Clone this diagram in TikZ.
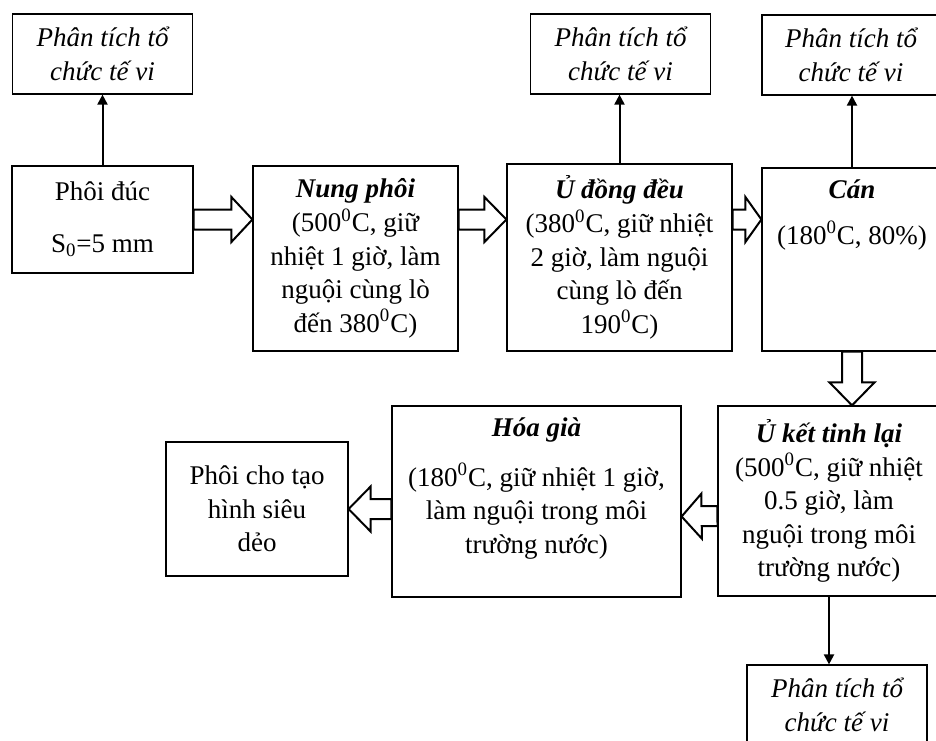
\documentclass[tikz,border=0pt]{standalone}
\usepackage{fontspec}
\setmainfont{Liberation Serif}
\usepackage{tikz}
\usetikzlibrary{arrows.meta,calc}

\begin{document}
\begin{tikzpicture}[x=0.5pt,y=-0.5pt,
    box/.style={draw,line width=0.6pt,inner sep=0pt,align=center,font=\fontsize{13.5}{16.8}\selectfont},
    ptbox/.style={box,minimum width=90pt,minimum height=40pt,font=\fontsize{13.5}{16.8}\selectfont\itshape},
    txt/.style={inner sep=0pt,align=center,font=\fontsize{13.5}{16.8}\selectfont},
    link/.style={line width=1pt,-{Triangle[length=5pt,width=5pt]}},
    hollow/.style={draw,line width=1pt,fill=white,line join=miter,
      to path={($(\tikztotarget)!#1!(\tikztostart)$) coordinate (hb)
        ($(\tikztostart)!5pt!90:(\tikztotarget)$) -- ($(hb)!5pt!-90:(\tikztostart)$)
        -- ($(hb)!11.25pt!-90:(\tikztostart)$) -- (\tikztotarget)
        -- ($(hb)!11.25pt!90:(\tikztostart)$) -- ($(hb)!5pt!90:(\tikztostart)$)
        -- ($(\tikztostart)!5pt!-90:(\tikztotarget)$) -- cycle}},
    hollow/.default=11pt]
    \useasboundingbox (0,0) rectangle (936,740);
    \clip (0,0) rectangle (936,740);
    \node[ptbox] (pt1) at (102.5,54) {Phân tích tổ\\chức tế vi};
    \node[box,minimum width=90.5pt,minimum height=53.5pt] (phoi) at (102.5,219.5) {Phôi đúc\\[9pt]S\textsubscript{0}=5 mm};
    \node[box,minimum width=102.5pt,minimum height=92.5pt] (nung) at (355.5,258.5) {\textbf{\textit{Nung phôi}}\\(500\textsuperscript{0}C, giữ\\nhiệt 1 giờ, làm\\nguội cùng lò\\đến 380\textsuperscript{0}C)};
    \node[box,minimum width=112.5pt,minimum height=93.5pt] (udong) at (619.5,257.5) {\textbf{\textit{Ủ đồng đều}}\\(380\textsuperscript{0}C, giữ nhiệt\\2 giờ, làm nguội\\cùng lò đến\\190\textsuperscript{0}C)};
    \node[ptbox] (pt2) at (620.5,54) {Phân tích tổ\\chức tế vi};
    \node[box,minimum width=90pt,minimum height=91.5pt] (can) at (852,259.5) {};
    \node[txt] (cantxt) at (852,215) {\textbf{\textit{Cán}}\\[6pt](180\textsuperscript{0}C, 80\%)};
    \node[ptbox,minimum width=89pt] (pt3) at (851,55) {Phân tích tổ\\chức tế vi};
    \node[box,minimum width=111pt,minimum height=95pt] (ukt) at (829,501) {\textbf{\textit{Ủ kết tinh lại}}\\(500\textsuperscript{0}C, giữ nhiệt\\0.5 giờ, làm\\nguội trong môi\\trường nước)};
    \node[box,minimum width=144.5pt,minimum height=95.5pt] (hoa) at (536.5,501.5) {};
    \node[txt] (hoatxt) at (536.5,488.5) {\textbf{\textit{Hóa già}}\\[8pt](180\textsuperscript{0}C, giữ nhiệt 1 giờ,\\làm nguội trong môi\\trường nước)};
    \node[box,minimum width=91pt,minimum height=67pt] (phoicho) at (257,509) {Phôi cho tạo\\hình siêu\\dẻo};
    \node[ptbox] (pt4) at (837,705) {Phân tích tổ\\chức tế vi};
    \draw[link] (phoi.north) -- (pt1.south);
    \draw[link] (udong.north) -- (udong.north |- pt2.south);
    \draw[link] (can.north) -- (can.north |- pt3.south);
    \draw[link] (ukt.south) -- (ukt.south |- pt4.north);
    \draw[hollow=10.5pt] (phoi.east) to (phoi.east -| nung.west);
    \draw[hollow] (nung.east |- phoi.east) to (udong.west |- phoi.east);
    \draw[hollow=8pt] (udong.east |- phoi.east) to (can.west |- phoi.east);
    \draw[hollow=11.5pt] (can.south) to (can.south |- ukt.north);
    \draw[hollow=10pt] ([yshift=-7.5pt]ukt.west) to ([yshift=-7.5pt]hoa.east);
    \draw[hollow] (hoa.west |- phoicho.east) to (phoicho.east);
\end{tikzpicture}
\end{document}
